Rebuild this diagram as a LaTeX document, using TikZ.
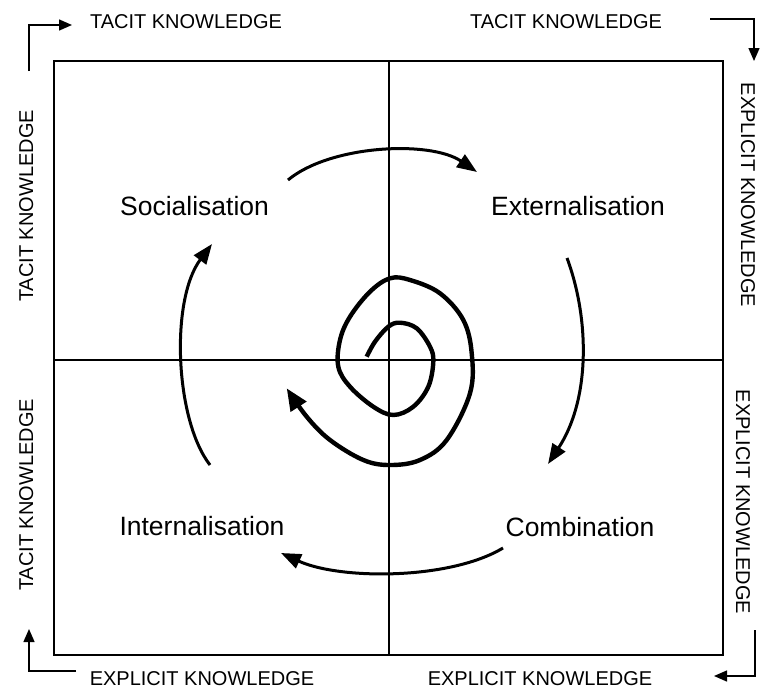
\documentclass[tikz,border=0pt]{standalone}
\usepackage{fontspec}
\setmainfont{Liberation Sans}
\usetikzlibrary{arrows.meta}
\begin{document}
\begin{tikzpicture}[x=1pt,y=-1pt,
  big/.style={font=\fontsize{26.5}{30}\selectfont, anchor=base, inner sep=0pt},
  small/.style={font=\fontsize{20}{22}\selectfont, anchor=base, inner sep=0pt},
  cyc/.style={line width=3pt, -{Triangle[length=20pt,width=15pt]}},
  spiral/.style={line width=4.4pt, line join=round, -{Triangle[length=22pt,width=18pt]}},
  corner/.style={line width=1.4pt, -{Triangle[length=13pt,width=11pt]}},
  frame/.style={line width=1.8pt},
  axis/.style={line width=1.3pt}]
\useasboundingbox (0,0) rectangle (760,688);
% frame and cross
\draw[frame] (54,61) rectangle (723,655);
\coordinate (vt) at (389,61);
\coordinate (vb) at (389,655);
\coordinate (hl) at (54,360);
\coordinate (hr) at (723,360);
\draw[axis] (vt) -- (vb);
\draw[axis] (hl) -- (hr);
% quadrant labels
\node[big] (soc) at (194.5,215) {Socialisation};
\node[big] (ext) at (578,215) {Externalisation};
\node[big] (int) at (202,535) {Internalisation};
\node[big] (com) at (580,536) {Combination};
% edge labels
\node[small] (tt1) at (186,28) {TACIT KNOWLEDGE};
\node[small] (tt2) at (566,28) {TACIT KNOWLEDGE};
\node[small] (eb1) at (202,685) {EXPLICIT KNOWLEDGE};
\node[small] (eb2) at (540,685) {EXPLICIT KNOWLEDGE};
\node[small, rotate=90] (tl1) at (33,206) {TACIT KNOWLEDGE};
\node[small, rotate=90] (tl2) at (33,495) {TACIT KNOWLEDGE};
\node[small, rotate=-90] (er1) at (741,195) {EXPLICIT KNOWLEDGE};
\node[small, rotate=-90] (er2) at (736,502) {EXPLICIT KNOWLEDGE};
% corner arrows
\coordinate (c1a) at (29,71);
\coordinate (c1b) at (29,25);
\coordinate (c1c) at (72,25);
\draw[corner] (c1a) -- (c1b) -- (c1c);
\coordinate (c2a) at (710,19);
\coordinate (c2b) at (754,19);
\coordinate (c2c) at (754,61);
\draw[corner] (c2a) -- (c2b) -- (c2c);
\coordinate (c3a) at (755,630);
\coordinate (c3b) at (755,676);
\coordinate (c3c) at (714,676);
\draw[corner] (c3a) -- (c3b) -- (c3c);
\coordinate (c4a) at (76,671);
\coordinate (c4b) at (29,671);
\coordinate (c4c) at (29,629);
\draw[corner] (c4a) -- (c4b) -- (c4c);
% cycle arrows
\coordinate (s1) at (288,180);
\coordinate (e1) at (477,172);
\coordinate (s2) at (567,258);
\coordinate (e2) at (548,464);
\coordinate (s3) at (503,548);
\coordinate (e3) at (281,553);
\coordinate (s4) at (210,465);
\coordinate (e4) at (212,244);
\draw[cyc] (s1) .. controls (330,145) and (430,140) .. (e1);
\draw[cyc] (s2) .. controls (590,320) and (590,400) .. (e2);
\draw[cyc] (s3) .. controls (450,580) and (340,580) .. (e3);
\draw[cyc] (s4) .. controls (175,420) and (170,300) .. (e4);
% spiral
\coordinate (sp0) at (366.7,356.7);
\coordinate (sp1) at (286.7,388.3);
\draw[spiral] plot[smooth, tension=0.6] coordinates {
 (sp0) (375,341.7) (388.3,326.7) (400,322.7) (416.7,328.3) (430,346.7)
 (433.3,361.7) (428.3,386.7) (413.3,406.7) (393.3,415) (373.3,406.7)
 (350,386.7) (338.3,366.7) (340,340) (350,316.7) (370,291.7) (390,278.3)
 (410,280) (440,293.3) (463.3,320) (471.7,353.3) (470,393.3) (446.7,440)
 (420,460) (390,465) (363.3,460) (330,440) (306.7,416.7) (sp1)};
\end{tikzpicture}
\end{document}
